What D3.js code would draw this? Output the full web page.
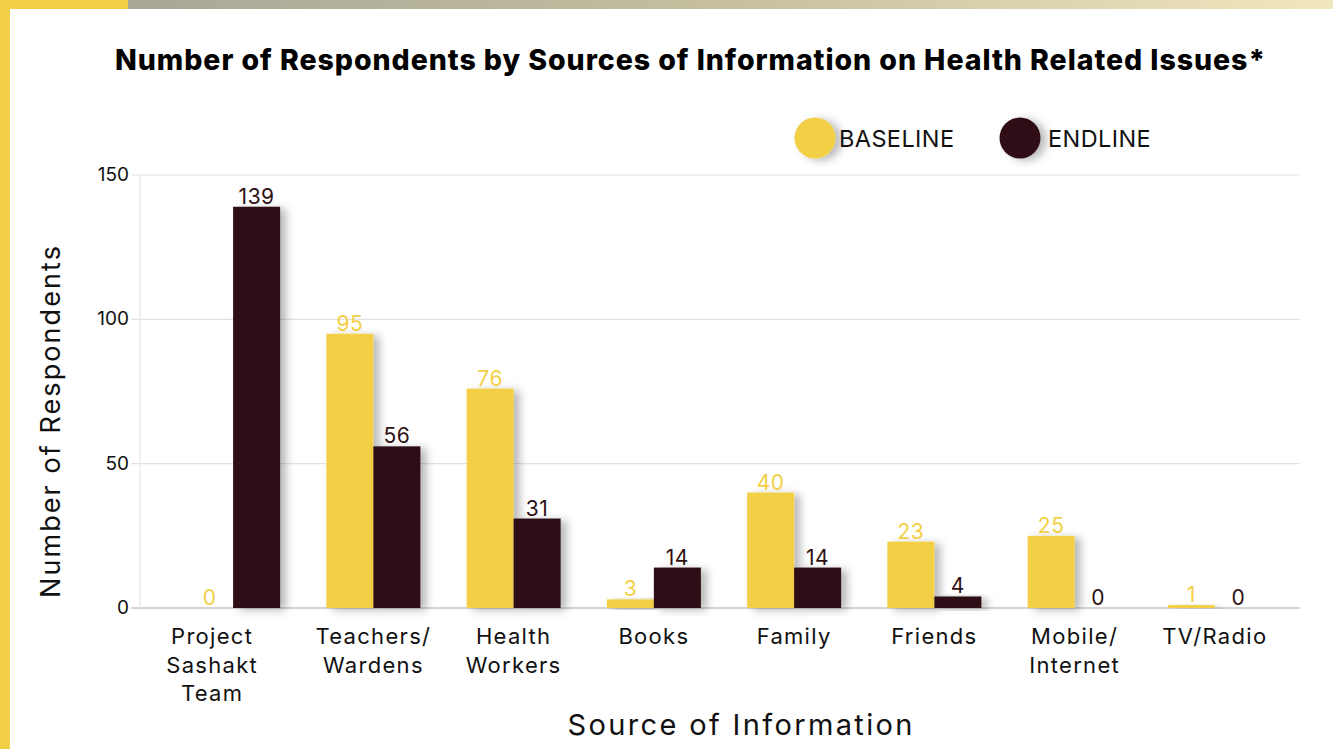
<!DOCTYPE html>
<html>
<head>
<meta charset="utf-8">
<script src="https://cdn.jsdelivr.net/npm/d3@7"></script>
<style>
  html, body { margin: 0; padding: 0; background: #fff; }
  svg { display: block; font-family: "Inter", "Noto Sans", sans-serif; }
</style>
</head>
<body>
<svg id="chart" width="1333" height="749"></svg>
<script>
// Sources of information on health related issues
const categories = [
  ["Project", "Sashakt", "Team"],
  ["Teachers/", "Wardens"],
  ["Health", "Workers"],
  ["Books"],
  ["Family"],
  ["Friends"],
  ["Mobile/", "Internet"],
  ["TV/Radio"]
];
const baseline = [0, 95, 76, 3, 40, 23, 25, 1];
const endline  = [139, 56, 31, 14, 14, 4, 0, 0];
const yTicks = [0, 50, 100, 150];
const seriesNames = ["BASELINE", "ENDLINE"];

const YELLOW = "#f3cf45";
const DARK = "#2d1012";

const svg = d3.select("#chart");
const W = 1333, H = 749;

// decorative frame: top gradient band and left yellow strip
const defs = svg.append("defs");
const grad = defs.append("linearGradient").attr("id", "topband").attr("x1", "0%").attr("x2", "100%");
grad.append("stop").attr("offset", "0%").attr("stop-color", "#a8a798");
grad.append("stop").attr("offset", "50%").attr("stop-color", "#c6c09f");
grad.append("stop").attr("offset", "100%").attr("stop-color", "#f1e7be");

const shadow = defs.append("filter").attr("id", "shadow")
  .attr("x", "-20%").attr("y", "-20%").attr("width", "160%").attr("height", "140%");
shadow.append("feDropShadow").attr("dx", 6).attr("dy", 2).attr("stdDeviation", 4)
  .attr("flood-color", "#000").attr("flood-opacity", 0.28);

svg.append("rect").attr("x", 128).attr("y", 0).attr("width", W - 128).attr("height", 9).attr("fill", "url(#topband)");
svg.append("rect").attr("x", 0).attr("y", 0).attr("width", 128).attr("height", 9).attr("fill", YELLOW);
svg.append("rect").attr("x", 0).attr("y", 0).attr("width", 10).attr("height", H).attr("fill", YELLOW);

// title
svg.append("text")
  .attr("x", 690).attr("y", 70)
  .attr("text-anchor", "middle")
  .attr("font-size", 28.5).attr("font-weight", 800).attr("fill", "#000")
  .attr("textLength", 1150).attr("lengthAdjust", "spacing")
  .text("Number of Respondents by Sources of Information on Health Related Issues*");

// scales
const x0 = d3.scaleBand().domain(d3.range(categories.length)).range([163, 1285]).padding(0);
const barW = 47;
const y = d3.scaleLinear().domain([0, 150]).range([608, 175]);

// gridlines
svg.append("g").selectAll("line").data(yTicks).join("line")
  .attr("x1", 131).attr("x2", 1300)
  .attr("y1", d => y(d)).attr("y2", d => y(d))
  .attr("stroke", d => d === 0 ? "#d4d4d4" : "#e2e2e2").attr("stroke-width", d => d === 0 ? 2 : 1.2);
svg.append("line").attr("x1", 140).attr("x2", 140).attr("y1", y(150)).attr("y2", y(0))
  .attr("stroke", "#e6e6e6").attr("stroke-width", 1.2);

// y tick labels
svg.append("g").selectAll("text").data(yTicks).join("text")
  .attr("x", 129).attr("y", d => y(d) + 6)
  .attr("text-anchor", "end").attr("font-size", 19).attr("fill", "#111")
  .text(d => d);

// bars
const groups = svg.append("g").selectAll("g").data(categories).join("g")
  .attr("transform", (d, i) => `translate(${x0(i) + x0.bandwidth() / 2},0)`);

const seriesData = [baseline, endline];
const colors = [YELLOW, DARK];
seriesData.forEach((vals, s) => {
  groups.append("rect")
    .attr("x", s === 0 ? -barW : 0)
    .attr("width", barW)
    .attr("y", (d, i) => y(vals[i]))
    .attr("height", (d, i) => y(0) - y(vals[i]))
    .attr("fill", colors[s])
    .attr("filter", (d, i) => vals[i] > 0 ? "url(#shadow)" : null);
  groups.append("text")
    .attr("x", s === 0 ? -barW / 2 : barW / 2)
    .attr("y", (d, i) => y(vals[i]) - 3)
    .attr("text-anchor", "middle").attr("font-size", 21)
    .attr("letter-spacing", 0.5)
    .attr("fill", colors[s])
    .text((d, i) => vals[i]);
});

// category labels (the first one sits a little left of its group)
groups.append("text")
  .attr("text-anchor", "middle").attr("font-size", 22).attr("fill", "#111")
  .attr("letter-spacing", 1.3)
  .attr("transform", (d, i) => i === 0 ? "translate(-21,0)" : null)
  .selectAll("tspan").data(d => d).join("tspan")
  .attr("x", 0)
  .attr("y", (d, j) => 644 + j * 28.5)
  .text(d => d);

// axis titles
svg.append("text")
  .attr("transform", "translate(60,422) rotate(-90)")
  .attr("text-anchor", "middle").attr("font-size", 27).attr("fill", "#111")
  .attr("textLength", 352).attr("lengthAdjust", "spacing")
  .text("Number of Respondents");
svg.append("text")
  .attr("x", 740).attr("y", 735)
  .attr("text-anchor", "middle").attr("font-size", 29).attr("fill", "#111")
  .attr("textLength", 345).attr("lengthAdjust", "spacing")
  .text("Source of Information");

// legend
const legend = svg.append("g").selectAll("g").data(seriesNames).join("g")
  .attr("transform", (d, i) => `translate(${i === 0 ? 815 : 1020},138)`);
legend.append("circle").attr("r", 20.5).attr("fill", (d, i) => colors[i]).attr("filter", "url(#shadow)");
legend.append("text").attr("x", (d, i) => i === 0 ? 24 : 28).attr("y", 8.5)
  .attr("font-size", 23.5).attr("fill", "#111").attr("letter-spacing", 0.4)
  .text(d => d);
</script>
</body>
</html>
